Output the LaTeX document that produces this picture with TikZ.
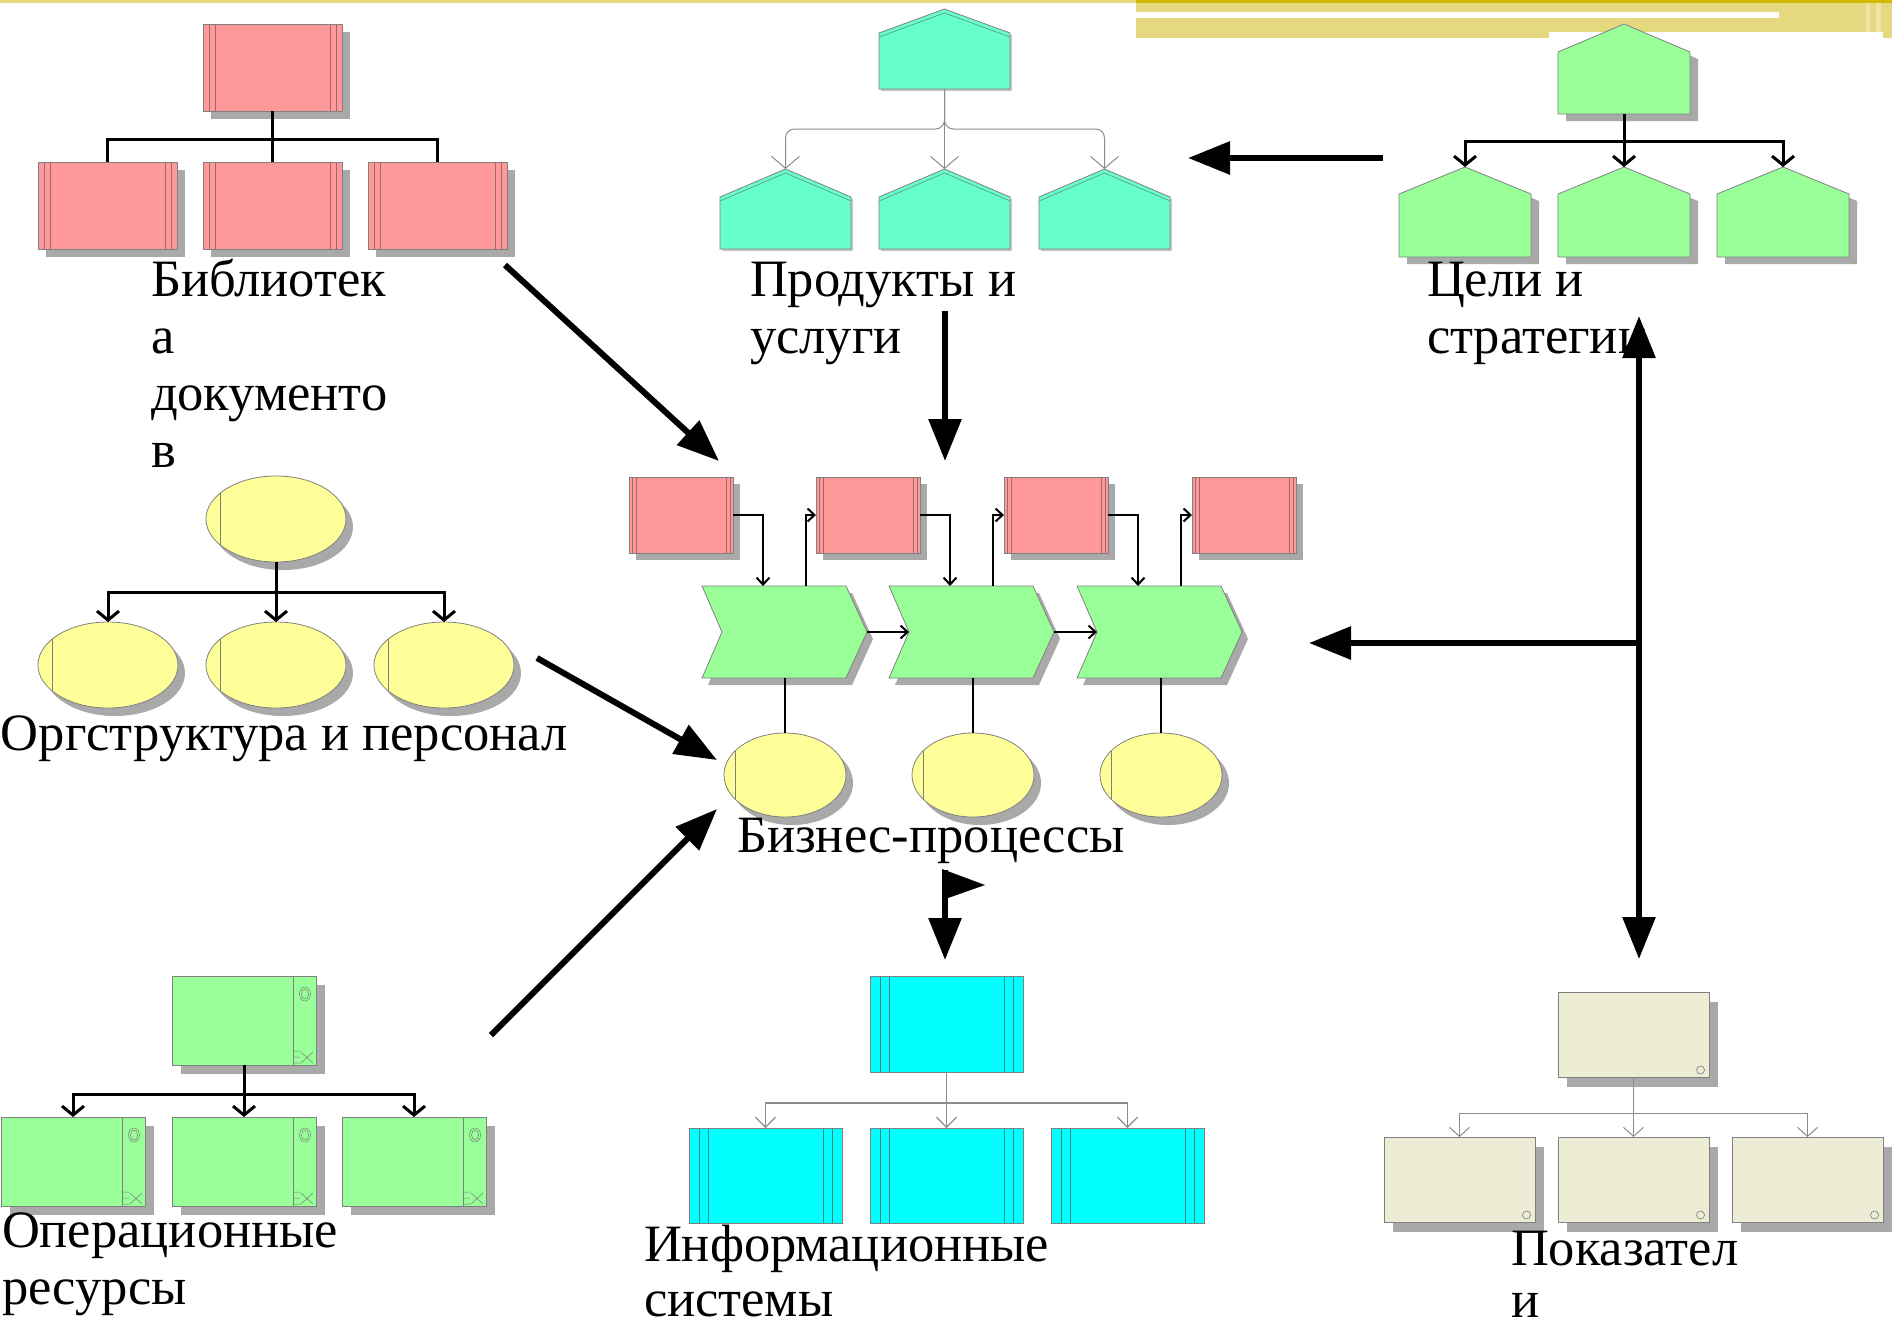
\documentclass[tikz,border=0pt]{standalone}
\usepackage{fontspec}
\setmainfont{Liberation Serif}
\usetikzlibrary{arrows.meta,calc,shapes.geometric,shadows}

\definecolor{docred}{HTML}{FF9999}
\definecolor{prodaqua}{HTML}{66FFCC}
\definecolor{goalgreen}{HTML}{99FF99}
\definecolor{orgyellow}{HTML}{FFFF99}
\definecolor{syscyan}{HTML}{00FFFF}
\definecolor{kpibeige}{HTML}{EDEDD6}
\definecolor{shadowgrey}{HTML}{A9A9A9}
\definecolor{lightshadow}{HTML}{C8C8C8}
\definecolor{edgegrey}{HTML}{808080}
\definecolor{linegrey}{HTML}{8C8C8C}
\definecolor{icongrey}{HTML}{7A7A7A}
\definecolor{redstripe}{HTML}{9A6A6A}
\definecolor{cyanstripe}{HTML}{3C8080}
\definecolor{aquaedge}{HTML}{5E9E88}
\definecolor{bannerkhaki}{HTML}{E5D87F}
\definecolor{bannerlight}{HTML}{EDE4A8}
\definecolor{bannergold}{HTML}{D4B700}

% several lines of a caption, first baseline is the node baseline
\newcommand\textlines[2][57pt]{\vtop{\baselineskip=#1\lineskiplimit=-1000pt\lineskip=0pt\halign{##\hfil\cr#2\crcr}}}

\begin{document}
\begin{tikzpicture}[x=1pt,y=-1pt,
  every node/.style={inner sep=0pt,outer sep=0pt},
  stripes/.style n args={3}{path picture={
    \draw[#3,line width=0.7pt]
      ([xshift=#1pt]path picture bounding box.south west) -- ([xshift=#1pt]path picture bounding box.north west)
      ([xshift=#2pt]path picture bounding box.south west) -- ([xshift=#2pt]path picture bounding box.north west)
      ([xshift=-#1pt]path picture bounding box.south east) -- ([xshift=-#1pt]path picture bounding box.north east)
      ([xshift=-#2pt]path picture bounding box.south east) -- ([xshift=-#2pt]path picture bounding box.north east);}},
  shadowed/.style 2 args={drop shadow={shadow xshift=#1pt,shadow yshift=-#2pt,fill=shadowgrey,opacity=1}},
  docbox/.style={rectangle,anchor=north west,minimum width=139pt,minimum height=87pt,
    fill=docred,draw=edgegrey,line width=0.8pt,shadowed={8}{8},stripes={6}{12}{redstripe}},
  procbox/.style={rectangle,anchor=north west,minimum width=104pt,minimum height=76pt,
    fill=docred,draw=edgegrey,line width=0.8pt,shadowed={7}{7},stripes={3}{7}{redstripe}},
  sysbox/.style={rectangle,anchor=north west,minimum width=153pt,minimum height=96pt,
    fill=syscyan,draw=edgegrey,line width=0.8pt,stripes={10}{19}{cyanstripe}},
  kpibox/.style={rectangle,anchor=north west,minimum width=151pt,minimum height=85pt,
    fill=kpibeige,draw=edgegrey,line width=0.8pt,shadowed={9}{10},
    path picture={\draw[icongrey,line width=0.6pt]
      ([xshift=-8.5pt,yshift=7pt]path picture bounding box.south east) circle (4pt);}},
  opbox/.style={rectangle,anchor=north west,minimum width=144pt,minimum height=89pt,
    fill=goalgreen,draw=edgegrey,line width=0.8pt,shadowed={9}{9},
    path picture={
      \draw[edgegrey,line width=0.8pt]
        ([xshift=-23pt]path picture bounding box.north east) -- ([xshift=-23pt]path picture bounding box.south east);
      \draw[icongrey,line width=0.5pt]
        ([xshift=-11pt,yshift=-18pt]path picture bounding box.north east) ellipse (5.5pt and 7pt)
        ([xshift=-11pt,yshift=-18pt]path picture bounding box.north east) ellipse (3.5pt and 5pt);
      \draw[icongrey,line width=0.5pt]
        ([xshift=-23pt,yshift=14pt]path picture bounding box.south east) -- ++(7,0)
        ([xshift=-23pt,yshift=8pt]path picture bounding box.south east) -- ++(7,0)
        ([xshift=-23pt,yshift=2pt]path picture bounding box.south east) -- ++(7,0)
        ([xshift=-15pt,yshift=13pt]path picture bounding box.south east) -- ++(12,11)
        ([xshift=-15pt,yshift=2pt]path picture bounding box.south east) -- ++(12,-11);}},
  orgell/.style={ellipse,minimum width=140pt,minimum height=86pt,fill=orgyellow,
    draw=edgegrey,line width=0.8pt,shadowed={7}{8},
    path picture={\draw[edgegrey,line width=0.7pt]
      ([xshift=14pt]path picture bounding box.south west) -- ([xshift=14pt]path picture bounding box.north west);}},
  procell/.style={ellipse,minimum width=122pt,minimum height=84pt,fill=orgyellow,
    draw=edgegrey,line width=0.8pt,shadowed={7}{8},
    path picture={\draw[edgegrey,line width=0.7pt]
      ([xshift=11pt]path picture bounding box.south west) -- ([xshift=11pt]path picture bounding box.north west);}},
  shapeframe/.style={rectangle,anchor=north west,draw=none},
  house path/.style 2 args={insert path={(#1.south west) -- ($(#1.north west)+(0,#2)$) -- (#1.north)
    -- ($(#1.north east)+(0,#2)$) -- (#1.south east) -- cycle}},
  chevron path/.style={insert path={(#1.north west) -- ($(#1.north east)+(-21,0)$) -- (#1.east)
    -- ($(#1.south east)+(-21,0)$) -- (#1.south west) -- ($(#1.west)+(20,0)$) -- cycle}},
  treeline/.style={line width=3pt},
  treearrow/.style={line width=3pt,-{Straight Barb[length=9pt,width=22pt]}},
  greyarrow/.style={draw=linegrey,line width=1.2pt,-{Straight Barb[length=10pt,width=20pt]}},
  kpiarrow/.style={draw=linegrey,line width=1pt,-{Straight Barb[length=9pt,width=20pt]}},
  prodarrow/.style={draw=linegrey,line width=1pt,rounded corners=9pt,-{Straight Barb[length=12pt,width=28pt]}},
  flowarrow/.style={line width=2pt,-{Straight Barb[length=7pt,width=13pt]}},
  flowline/.style={line width=1.5pt},
  bigarrow/.style={line width=6pt,-{Triangle[length=42pt,width=32pt]}},
  bothbig/.style={line width=6pt,{Triangle[length=42pt,width=32pt]}-{Triangle[length=42pt,width=32pt]}},
  titletext/.style={anchor=base west,font=\fontsize{52.5}{57}\selectfont}
]
\useasboundingbox (0,0) rectangle (1892,1326);
\fill[white] (0,0) rectangle (1892,1326);

% ---- top banner ----
\fill[bannerkhaki] (0,0) rectangle (1136,3);
\fill[bannergold] (1136,0) rectangle (1892,3);
\fill[bannerkhaki] (1136,3) rectangle (1892,38);
\fill[white] (1136,12) rectangle (1779,18);
\fill[white] (1549,32) rectangle (1883,38);
\fill[bannerlight] (1866,3) rectangle (1870,32);
\fill[bannerlight] (1876,3) rectangle (1881,32);

% ---- document library ----
\node[docbox] (L0) at (203,24) {};
\node[docbox] (L1) at (38,162) {};
\node[docbox] (L2) at (203,162) {};
\node[docbox] (L3) at (368,162) {};
\coordinate (lbar) at (272.5,139);
\draw[treeline] (L0.south) -- (L2.north);
\draw[treeline] (L1.north) |- (lbar) -| (L3.north);
\node[titletext] (tlib) at (151,296) {\textlines{Библиотек\cr а\cr документо\cr в}};

% ---- products and services ----
\node[shapeframe,minimum width=131pt,minimum height=80pt] (P0) at (879,9) {};
\node[shapeframe,minimum width=131pt,minimum height=80pt] (P1) at (720,169) {};
\node[shapeframe,minimum width=131pt,minimum height=80pt] (P2) at (879,169) {};
\node[shapeframe,minimum width=131pt,minimum height=80pt] (P3) at (1039,169) {};
\foreach \p/\r in {P0/24,P1/28,P2/28,P3/28}{
  \fill[lightshadow,transform canvas={xshift=2pt,yshift=-2pt},house path={\p}{\r}];
  \filldraw[fill=prodaqua,draw=edgegrey,line width=0.8pt,house path={\p}{\r}];
  \draw[aquaedge,line width=0.7pt] ($(\p.north west)+(0,\r+4)$) -- ($(\p.north)+(0,4)$) -- ($(\p.north east)+(0,\r+4)$);
}
\coordinate (pbar) at (944.5,129);
\draw[prodarrow] (P0.south) -- (pbar) -- (pbar -| P1.north) -- (P1.north);
\draw[prodarrow] (P0.south) -- (pbar) -- (pbar -| P3.north) -- (P3.north);
\draw[prodarrow] (P0.south) -- (P2.north);
\node[titletext] (tprod) at (750,296) {\textlines{Продукты и\cr услуги}};

% ---- goals and strategies ----
\node[shapeframe,minimum width=132pt,minimum height=90pt] (G0) at (1558,24) {};
\node[shapeframe,minimum width=132pt,minimum height=90pt] (G1) at (1399,167) {};
\node[shapeframe,minimum width=132pt,minimum height=90pt] (G2) at (1558,167) {};
\node[shapeframe,minimum width=132pt,minimum height=90pt] (G3) at (1717,167) {};
\foreach \g/\r in {G0/28,G1/27,G2/27,G3/27}{
  \fill[shadowgrey,transform canvas={xshift=8pt,yshift=-7pt},house path={\g}{\r}];
  \filldraw[fill=goalgreen,draw=edgegrey,line width=0.8pt,house path={\g}{\r}];
}
\coordinate (gbar) at (1624,141);
\draw[treearrow] (G0.south) -- (G2.north);
\draw[treearrow] (gbar) -| (G1.north);
\draw[treearrow] (gbar) -| (G3.north);
\node[titletext] (tgoal) at (1427,296) {\textlines{Цели и\cr стратегии}};

% ---- organisation and staff ----
\node[orgell] (O0) at (276,519) {};
\node[orgell] (O1) at (108,665) {};
\node[orgell] (O2) at (276,665) {};
\node[orgell] (O3) at (444,665) {};
\coordinate (obar) at (276,592);
\draw[treearrow] (O0.south) -- (O2.north);
\draw[treearrow] (obar) -| (O1.north);
\draw[treearrow] (obar) -| (O3.north);
\node[titletext] (torg) at (1,750) {Оргструктура и персонал};

% ---- business processes ----
\node[procbox] (B1) at (629,477) {};
\node[procbox] (B2) at (816,477) {};
\node[procbox] (B3) at (1004,477) {};
\node[procbox] (B4) at (1192,477) {};
\node[shapeframe,minimum width=165pt,minimum height=92pt] (C1) at (702,586) {};
\node[shapeframe,minimum width=165pt,minimum height=92pt] (C2) at (889,586) {};
\node[shapeframe,minimum width=165pt,minimum height=92pt] (C3) at (1077,586) {};
\foreach \c in {C1,C2,C3}{
  \fill[shadowgrey,transform canvas={xshift=6pt,yshift=-7pt},chevron path=\c];
  \filldraw[fill=goalgreen,draw=edgegrey,line width=0.8pt,chevron path=\c];
}
\node[procell] (E1) at (785,775) {};
\node[procell] (E2) at (973,775) {};
\node[procell] (E3) at (1161,775) {};
\draw[flowarrow] (B1.east) -| ($(C1.north west)+(61,0)$);
\draw[flowarrow] ($(C1.north west)+(104,0)$) |- (B2.west);
\draw[flowarrow] (B2.east) -| ($(C2.north west)+(61,0)$);
\draw[flowarrow] ($(C2.north west)+(104,0)$) |- (B3.west);
\draw[flowarrow] (B3.east) -| ($(C3.north west)+(61,0)$);
\draw[flowarrow] ($(C3.north west)+(104,0)$) |- (B4.west);
\draw[flowarrow] (C1.east) -- ($(C2.west)+(20,0)$);
\draw[flowarrow] (C2.east) -- ($(C3.west)+(20,0)$);
\draw[flowline] (E1.north |- C1.south) -- (E1.north);
\draw[flowline] (E2.north |- C2.south) -- (E2.north);
\draw[flowline] (E3.north |- C3.south) -- (E3.north);
\node[titletext] (tbp) at (737,852) {Бизнес-процессы};

% ---- operational resources ----
\node[opbox] (R0) at (172,976) {};
\node[opbox] (R1) at (1,1117) {};
\node[opbox] (R2) at (172,1117) {};
\node[opbox] (R3) at (342,1117) {};
\coordinate (rbar) at (244,1094);
\draw[treearrow] (R0.south) -- (R2.north);
\draw[treearrow] (rbar) -| (R1.north);
\draw[treearrow] (rbar) -| (R3.north);
\node[titletext] (tops) at (2,1247) {\textlines{Операционные\cr ресурсы}};

% ---- information systems ----
\node[sysbox] (S0) at (870,976) {};
\node[sysbox,minimum height=95pt] (S1) at (689,1128) {};
\node[sysbox,minimum height=95pt] (S2) at (870,1128) {};
\node[sysbox,minimum height=95pt] (S3) at (1051,1128) {};
\coordinate (sbar) at (946.5,1103);
\draw[greyarrow] (S0.south) -- (S2.north);
\draw[greyarrow] (sbar) -| (S1.north);
\draw[greyarrow] (sbar) -| (S3.north);
\node[titletext] (tsys) at (644,1261) {\textlines[55pt]{Информационные\cr системы}};

% ---- indicators ----
\node[kpibox] (K0) at (1558,992) {};
\node[kpibox] (K1) at (1384,1137) {};
\node[kpibox] (K2) at (1558,1137) {};
\node[kpibox] (K3) at (1732,1137) {};
\coordinate (kbar) at (1633.5,1113);
\draw[kpiarrow] (K0.south) -- (K2.north);
\draw[kpiarrow] (kbar) -| (K1.north);
\draw[kpiarrow] (kbar) -| (K3.north);
\node[titletext] (tkpi) at (1511,1265) {\textlines[52pt]{Показател\cr и}};

% ---- links between the blocks ----
\coordinate (a1s) at (505,265);   \coordinate (a1e) at (719,461);
\coordinate (a2s) at (945,311);   \coordinate (a2e) at (945,461);
\coordinate (a3s) at (1383,158);  \coordinate (a3e) at (1188,158);
\coordinate (a4s) at (537,658);   \coordinate (a4e) at (717,760);
\coordinate (a5s) at (491,1035);  \coordinate (a5e) at (717,809);
\coordinate (a6t) at (1639,316);  \coordinate (a6b) at (1639,959);
\coordinate (a6m) at (1639,643);  \coordinate (a6e) at (1309,643);
\coordinate (a7s) at (945,870);   \coordinate (a7e) at (945,960);
\draw[bigarrow] (a1s) -- (a1e);
\draw[bigarrow] (a2s) -- (a2e);
\draw[bigarrow] (a3s) -- (a3e);
\draw[bigarrow] (a4s) -- (a4e);
\draw[bigarrow] (a5s) -- (a5e);
\draw[bothbig] (a6b) -- (a6t);
\draw[bigarrow] (a6m) -- (a6e);
\draw[bigarrow] (a7s) -- (a7e);
\fill ($(a7s)+(-3,-1)$) -- ($(a7s)+(40,15)$) -- ($(a7s)+(3,28)$) -- cycle;
\end{tikzpicture}
\end{document}
